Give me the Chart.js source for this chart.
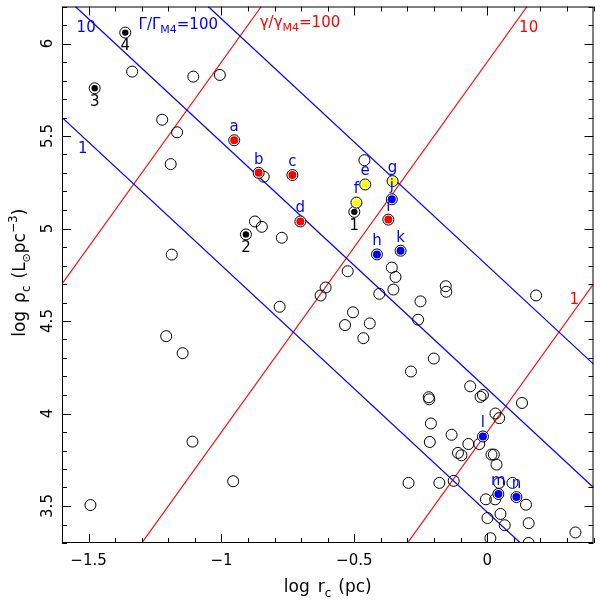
<!DOCTYPE html>
<html><head><meta charset="utf-8">
<script src="https://cdn.jsdelivr.net/npm/chart.js@4"></script>
<style>html,body{margin:0;padding:0;background:#fff}canvas{display:block}</style>
</head><body>
<canvas id="c" width="600" height="600"></canvas>
<script>
// ---- data ----
const openX = [-1.336,-1.106,-1.006,-1.223,-1.167,-1.191,-0.841,-0.874,-0.848,-0.773,-1.187,-0.462,-0.525,-0.359,-0.345,-0.353,-0.406,-0.608,-0.627,-0.156,-0.154,-0.251,-0.260,-0.505,-0.535,-0.442,-0.466,0.184,-0.781,-1.208,-1.146,-1.109,-0.956,-1.493,-0.201,-0.287,-0.064,-0.220,-0.218,-0.025,-0.016,0.131,0.031,0.045,-0.212,-0.134,-0.216,-0.071,-0.030,-0.110,-0.097,0.016,0.025,0.035,-0.296,-0.180,-0.126,0.095,0.045,-0.005,0.030,0.146,0.050,0.001,0.066,0.156,0.332,0.012,0.156];
const openY = [5.848,5.821,5.830,5.588,5.520,5.348,5.280,5.038,5.009,4.950,4.859,5.369,4.769,4.789,4.738,4.670,4.647,4.681,4.638,4.688,4.658,4.606,4.507,4.547,4.478,4.487,4.407,4.638,4.577,4.418,4.326,3.848,3.634,3.505,4.297,4.227,4.147,4.088,4.077,4.090,4.100,4.057,4.000,3.975,3.946,3.885,3.846,3.835,3.835,3.787,3.774,3.778,3.778,3.724,3.625,3.625,3.636,3.625,3.625,3.536,3.536,3.507,3.457,3.435,3.396,3.407,3.357,3.326,3.300];

const redX = [-0.952,-0.860,-0.733,-0.703,-0.372];
const redY = [5.477,5.301,5.289,5.038,5.048];
const redLabels = ['a','b','c','d','i'];

const yellowX = [-0.459,-0.492,-0.356];
const yellowY = [5.238,5.140,5.256];
const yellowLabels = ['e','f','g'];

const blueX = [-0.415,-0.359,-0.326,-0.016,0.042,0.110];
const blueY = [4.860,5.158,4.880,3.876,3.565,3.548];
const blueLabels = ['h','j','k','l','m','n'];

const blackX = [-0.500,-0.908,-1.477,-1.362];
const blackY = [5.090,4.968,5.758,6.059];
const blackLabels = ['1','2','3','4'];

// relation lines (end points)
const gamma1X = [-1.6, 0.125],  gamma1Y = [5.6, 3.3];
const gamma10X = [-1.55, 0.4],  gamma10Y = [6.2, 3.6];
const gamma100X = [-1.05, 0.4], gamma100Y = [6.2, 4.267];
const cap100X = [-1.6, -0.85],  cap100Y = [4.7, 6.2];
const cap10X = [-1.3, 0.15],    cap10Y = [3.3, 6.2];
const cap1X = [-0.3, 0.4],      cap1Y = [3.3, 4.7];

const xTickValues = [-1.5, -1, -0.5, 0];
const xTickLabels = ['\u22121.5', '\u22121', '\u22120.5', '0'];
const yTickValues = [3.5, 4, 4.5, 5, 5.5, 6];
const yTickLabels = ['3.5', '4', '4.5', '5', '5.5', '6'];

// ---- helpers ----
const zip = (xs, ys) => xs.map((v, i) => ({x: v, y: ys[i]}));
const BLUE = '#0000ff', RED = '#ff0000', YEL = '#ffff00';
const FONT = '"DejaVu Sans", sans-serif';

function lineDS(xs, ys, col){
  return {type:'line', data: zip(xs, ys), borderColor: col, borderWidth: 1.2, pointRadius: 0, fill: false, showLine: true, order: 20, tension: 0};
}
function ringDS(xs, ys){
  return {data: zip(xs, ys), pointRadius: 5.5, backgroundColor: '#fff', borderColor: '#000', borderWidth: 1, order: 3};
}
function dotDS(xs, ys, col, r){
  return {data: zip(xs, ys), pointRadius: r, backgroundColor: col, borderColor: col, borderWidth: 0, order: 1};
}

function richWidth(ctx, segs){
  let w = 0;
  for (const s of segs){ ctx.font = s.size + 'px ' + FONT; w += ctx.measureText(s.t).width + (s.gap||0); }
  return w;
}
function drawRich(ctx, segs, x, y){
  let cx = x;
  for (const s of segs){
    ctx.font = s.size + 'px ' + FONT;
    ctx.fillText(s.t, cx, y + (s.dy||0));
    cx += ctx.measureText(s.t).width + (s.gap||0);
  }
}

const decor = {
  id: 'decor',
  afterDatasetsDraw(chart){
    const {ctx, chartArea: a, scales: {x, y}} = chart;
    ctx.save();
    ctx.textAlign = 'center';
    ctx.textBaseline = 'middle';
    ctx.font = '15px ' + FONT;
    ctx.fillStyle = BLUE;
    const lbl = (xs, ys, ls, dy) => ls.forEach((t, i) => ctx.fillText(t, x.getPixelForValue(xs[i]), y.getPixelForValue(ys[i]) + dy));
    lbl(redX, redY, redLabels, -13);
    lbl(yellowX, yellowY, yellowLabels, -13);
    lbl(blueX, blueY, blueLabels, -13);
    ctx.fillStyle = '#000';
    lbl(blackX, blackY, blackLabels, 14);

    ctx.textAlign = 'left';
    ctx.textBaseline = 'alphabetic';
    ctx.fillStyle = BLUE;
    ctx.font = '15px ' + FONT;
    ctx.fillText('10', x.getPixelForValue(-1.545), y.getPixelForValue(6.06));
    ctx.fillText('1', x.getPixelForValue(-1.54), y.getPixelForValue(5.41));
    drawRich(ctx, [{t:'\u0393/\u0393', size:15}, {t:'M4', size:11, dy:4}, {t:'=100', size:15}], x.getPixelForValue(-1.312), y.getPixelForValue(6.08));
    ctx.fillStyle = RED;
    drawRich(ctx, [{t:'\u03b3/\u03b3', size:15}, {t:'M4', size:11, dy:4}, {t:'=100', size:15}], x.getPixelForValue(-0.856), y.getPixelForValue(6.09));
    ctx.font = '15px ' + FONT;
    ctx.fillText('10', x.getPixelForValue(0.12), y.getPixelForValue(6.06));
    ctx.fillText('1', x.getPixelForValue(0.31), y.getPixelForValue(4.59));
    ctx.restore();
  },
  afterDraw(chart){
    const {ctx, chartArea: a, scales: {x, y}} = chart;
    ctx.save();
    ctx.strokeStyle = '#000';
    ctx.lineWidth = 1;
    ctx.strokeRect(a.left + 0.5, a.top + 0.5, a.right - a.left - 1, a.bottom - a.top - 1);
    ctx.beginPath();
    for (let i = -16; i <= 4; i++){
      const px = Math.round(x.getPixelForValue(i / 10)) + 0.5;
      const L = (i % 5 === 0) ? 9 : 5;
      ctx.moveTo(px, a.bottom); ctx.lineTo(px, a.bottom - L);
      ctx.moveTo(px, a.top); ctx.lineTo(px, a.top + L);
    }
    for (let i = 33; i <= 62; i++){
      const py = Math.round(y.getPixelForValue(i / 10)) + 0.5;
      const L = (i % 5 === 0) ? 9 : 5;
      ctx.moveTo(a.left, py); ctx.lineTo(a.left + L, py);
      ctx.moveTo(a.right, py); ctx.lineTo(a.right - L, py);
    }
    ctx.stroke();

    ctx.fillStyle = '#000';
    ctx.font = '15px ' + FONT;
    ctx.textAlign = 'center';
    ctx.textBaseline = 'alphabetic';
    xTickValues.forEach((v, i) => ctx.fillText(xTickLabels[i], x.getPixelForValue(v), a.bottom + 22));
    yTickValues.forEach((v, i) => {
      ctx.save();
      ctx.translate(a.left - 10, y.getPixelForValue(v));
      ctx.rotate(-Math.PI / 2);
      ctx.fillText(yTickLabels[i], 0, 0);
      ctx.restore();
    });

    const xt = [{t:'log', size:17, gap:8}, {t:'r', size:17}, {t:'c', size:12, dy:5, gap:7}, {t:'(pc)', size:17}];
    ctx.textAlign = 'left';
    const wx = richWidth(ctx, xt);
    drawRich(ctx, xt, (a.left + a.right) / 2 - wx / 2, 592);

    const yt = [{t:'log', size:17, gap:8}, {t:'\u03c1', size:17}, {t:'c', size:12, dy:5, gap:7}, {t:'(L', size:17}, {t:'\u2299', size:11, dy:5}, {t:'pc', size:17}, {t:'\u22123', size:12, dy:-8}, {t:')', size:17}];
    const wy = richWidth(ctx, yt);
    ctx.save();
    ctx.translate(25, (a.top + a.bottom) / 2 - 2);
    ctx.rotate(-Math.PI / 2);
    drawRich(ctx, yt, -wy / 2, 0);
    ctx.restore();
    ctx.restore();
  }
};

new Chart(document.getElementById('c'), {
  type: 'scatter',
  data: {
    datasets: [
      lineDS(gamma1X, gamma1Y, BLUE),
      lineDS(gamma10X, gamma10Y, BLUE),
      lineDS(gamma100X, gamma100Y, BLUE),
      lineDS(cap100X, cap100Y, RED),
      lineDS(cap10X, cap10Y, RED),
      lineDS(cap1X, cap1Y, RED),
      {data: zip(openX, openY), pointRadius: 5.5, backgroundColor: 'rgba(0,0,0,0)', borderColor: '#000', borderWidth: 1, order: 5},
      ringDS(redX, redY), ringDS(yellowX, yellowY), ringDS(blueX, blueY), ringDS(blackX, blackY),
      dotDS(redX, redY, RED, 4), dotDS(yellowX, yellowY, YEL, 4), dotDS(blueX, blueY, BLUE, 4), dotDS(blackX, blackY, '#000', 3.2)
    ]
  },
  options: {
    responsive: false,
    animation: false,
    events: [],
    layout: {padding: {top: 3, right: 2, left: 0, bottom: 0}},
    plugins: {legend: {display: false}, tooltip: {enabled: false}},
    scales: {
      x: {type: 'linear', min: -1.6, max: 0.4, grid: {display: false}, border: {display: false}, ticks: {display: false}, afterFit: s => { s.height = 57; }},
      y: {type: 'linear', min: 3.3, max: 6.2, grid: {display: false}, border: {display: false}, ticks: {display: false}, afterFit: s => { s.width = 62; }}
    }
  },
  plugins: [decor]
});
</script>
</body></html>
